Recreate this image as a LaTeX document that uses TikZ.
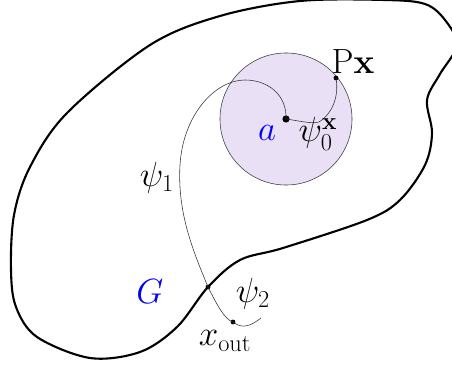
\documentclass[tikz,border=0pt]{standalone}
\usepackage{amsmath,amssymb}
\usepackage{tikz}
\usepackage{xcolor}
\usetikzlibrary{positioning, calc}
\definecolor{BallFill}{HTML}{E9E0F5}
\definecolor{BallDraw}{HTML}{3A3A3A}
\definecolor{LabelBlue}{HTML}{0000FF}
\tikzset{
    % Region and ball styles
    region/.style={
        draw=black,
        line width=1.5pt,
        line join=round
    },
    ballnode/.style={
        circle,
        draw=BallDraw,
        fill=BallFill,
        line width=0.4pt,
        minimum size=3.3cm,
        inner sep=0pt
    },
    % Path styles
    pathline/.style={
        draw=black!80,
        line width=0.4pt
    },
    % Point styles
    bigdot/.style={
        circle,
        fill=black,
        inner sep=0pt,
        minimum size=0.18cm
    },
    smalldot/.style={
        circle,
        fill=black,
        inner sep=0pt,
        minimum size=0.12cm
    },
    % Label styles
    lbl/.style={
        font=\fontsize{23.5}{28}\selectfont,
        inner sep=0pt
    },
    bluelbl/.style={
        lbl,
        text=LabelBlue
    }
}
\begin{document}
\begin{tikzpicture}[x=0.025cm, y=-0.025cm]
    \clip (0,0) rectangle (452,366);

    % the domain G
    \draw[region] plot[smooth cycle, tension=0.55] coordinates {
        (11,270) (14,215) (30,167) (67,113) (150,45) (220,16)
        (300,1) (385,0) (425,4) (445,20) (457,45) (440,74)
        (427,100) (432,133) (425,165) (400,200) (367,220)
        (283,248) (240,260) (208,287) (177,327) (140,352)
        (90,358) (37,337) (16,307)};

    % the ball around a
    \node[ballnode] (ball) at (286,119) {};

    % points
    \node[bigdot] (a) at (286,119) {};
    \node[smalldot] (px) at (336,78) {};
    \node[smalldot] (cross) at (208,287) {};
    \node[smalldot] (xout) at (233,322) {};
    \coordinate (bendtop) at (245,80);
    \coordinate (bendleft) at (180,165);
    \coordinate (bendzero) at (319,122);
    \coordinate (tailend) at (261,318);

    % paths
    \draw[pathline] (a.center) .. controls (287,95) and (268,80) .. (bendtop)
        .. controls (215,80) and (183,115) .. (bendleft)
        .. controls (177,215) and (195,255) .. (cross.center)
        .. controls (217,305) and (225,320) .. (xout.center);
    \draw[pathline] (xout.center) .. controls (243,330) and (252,325) .. (tailend);
    \draw[pathline] (a.center) .. controls (300,121) and (311,124) .. (bendzero)
        .. controls (333,113) and (339,96) .. (px.center);

    % labels
    \node[lbl] (pxlbl) at (353,62) {$\mathrm{P}\mathbf{x}$};
    \node[bluelbl] (albl) at (267,133) {$a$};
    \node[lbl] (psizero) at (318,134) {$\psi_0^{\mathbf{x}}$};
    \node[lbl] (psione) at (157,178) {$\psi_1$};
    \node[bluelbl] (glbl) at (150,292) {$G$};
    \node[lbl] (psitwo) at (253,294) {$\psi_2$};
    \node[lbl] (xoutlbl) at (225,341) {$x_{\mathrm{out}}$};
\end{tikzpicture}
\end{document}
